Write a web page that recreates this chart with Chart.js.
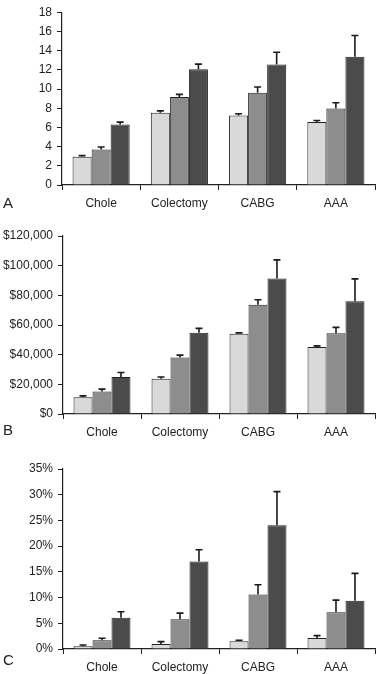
<!DOCTYPE html>
<html>
<head>
<meta charset="utf-8">
<script src="https://cdn.jsdelivr.net/npm/chart.js@4/dist/chart.umd.min.js"></script>
<style>
  html, body { margin: 0; padding: 0; background: #fff; }
  body { width: 376px; height: 674px; position: relative; overflow: hidden; font-family: "Liberation Sans", Arial, sans-serif; }
  .wrap { position: absolute; left: 0; width: 376px; }
  .letter { position: absolute; font-size: 15px; color: #222; line-height: 1; }
</style>
</head>
<body>
<div class="wrap" style="top:0;height:218px"><canvas id="cA" width="376" height="218"></canvas></div>
<div class="wrap" style="top:218px;height:228px"><canvas id="cB" width="376" height="228"></canvas></div>
<div class="wrap" style="top:446px;height:228px"><canvas id="cC" width="376" height="228"></canvas></div>
<div class="letter" style="left:3px;top:195px">A</div>
<div class="letter" style="left:3px;top:422px">B</div>
<div class="letter" style="left:3px;top:652px">C</div>
<script>
// ---- Data ----
const categories = ['Chole', 'Colectomy', 'CABG', 'AAA'];

// Panel A (length of stay)
const losLow = [2.95, 7.52, 7.25, 6.55];
const losLowErr = [0.11, 0.2, 0.17, 0.17];
const losMid = [3.69, 9.17, 9.6, 7.96];
const losMidErr = [0.27, 0.27, 0.61, 0.6];
const losHigh = [6.31, 12.05, 12.56, 13.36];
const losHighErr = [0.24, 0.54, 1.27, 2.22];
const losTicks = [0, 2, 4, 6, 8, 10, 12, 14, 16, 18];

// Panel B (cost, $)
const costLow = [11300, 23800, 54100, 45200];
const costLowErr = [900, 1100, 600, 700];
const costMid = [15200, 38100, 73700, 54500];
const costMidErr = [1600, 1600, 3300, 3900];
const costHigh = [24900, 54700, 91400, 76000];
const costHighErr = [3100, 3000, 12500, 15100];
const costTicks = [0, 20000, 40000, 60000, 80000, 100000, 120000];

// Panel C (rate, %)
const rateLow = [0.52, 0.98, 1.5, 2.15];
const rateLowErr = [0.26, 0.45, 0.2, 0.45];
const rateMid = [1.7, 5.8, 10.6, 7.17];
const rateMidErr = [0.39, 1.18, 1.9, 2.33];
const rateHigh = [6.06, 17.0, 24.05, 9.39];
const rateHighErr = [1.18, 2.3, 6.55, 5.31];
const rateTicks = [0, 5, 10, 15, 20, 25, 30, 35];

const colors = ['#d9d9d9', '#8d8d8d', '#4b4b4b'];

// ---- Error bar plugin ----
const errorBars = {
  id: 'errorBars',
  afterDatasetsDraw(chart) {
    const ctx = chart.ctx;
    const y = chart.scales.y;
    ctx.save();
    ctx.strokeStyle = '#1a1a1a';
    ctx.lineWidth = 1.6;
    chart.data.datasets.forEach((ds, di) => {
      const meta = chart.getDatasetMeta(di);
      meta.data.forEach((bar, i) => {
        const v = ds.data[i], e = ds.errors[i];
        const yTop = y.getPixelForValue(v + e);
        const yBar = y.getPixelForValue(v);
        ctx.beginPath();
        ctx.moveTo(bar.x, yBar);
        ctx.lineTo(bar.x, yTop);
        ctx.moveTo(bar.x - 3.5, yTop);
        ctx.lineTo(bar.x + 3.5, yTop);
        ctx.stroke();
      });
    });
    ctx.restore();
  }
};

function makeChart(id, series, errs, ticks, fmt, padTop, axisW, xH) {
  const datasets = series.map((s, k) => ({
    data: s,
    errors: errs[k],
    backgroundColor: colors[k],
    borderColor: '#222',
    borderWidth: 1,
    barPercentage: 1.0,
    categoryPercentage: 0.73
  }));
  return new Chart(document.getElementById(id), {
    type: 'bar',
    data: { labels: categories, datasets },
    plugins: [errorBars],
    options: {
      responsive: false,
      animation: false,
      devicePixelRatio: 1,
      layout: { padding: { top: padTop, right: 1, left: 0, bottom: 0 } },
      plugins: { legend: { display: false }, tooltip: { enabled: false } },
      scales: {
        x: {
          grid: { display: true, offset: true, drawOnChartArea: false, drawTicks: true, tickLength: 5, color: '#222', lineWidth: 1 },
          border: { display: true, color: '#222', width: 1.2 },
          ticks: { color: '#222', font: { family: 'Liberation Sans', size: 12 }, padding: 6, maxRotation: 0 },
          afterFit(s) { s.height = xH; }
        },
        y: {
          min: ticks[0],
          max: ticks[ticks.length - 1],
          afterBuildTicks(s) { s.ticks = ticks.map(v => ({ value: v })); },
          grid: { display: true, drawOnChartArea: false, drawTicks: true, tickLength: 5, color: '#222', lineWidth: 1 },
          border: { display: true, color: '#222', width: 1.2 },
          ticks: { color: '#222', font: { family: 'Liberation Sans', size: 12 }, padding: 5, callback: fmt },
          afterFit(s) { s.width = axisW; }
        }
      }
    }
  });
}

makeChart('cA', [losLow, losMid, losHigh], [losLowErr, losMidErr, losHighErr], losTicks,
  v => String(v), 7, 62, 33);
makeChart('cB', [costLow, costMid, costHigh], [costLowErr, costMidErr, costHighErr], costTicks,
  v => '$' + Number(v).toLocaleString('en-US'), 18, 63, 32);
makeChart('cC', [rateLow, rateMid, rateHigh], [rateLowErr, rateMidErr, rateHighErr], rateTicks,
  v => v + '%', 23, 63, 25);
</script>
</body>
</html>
